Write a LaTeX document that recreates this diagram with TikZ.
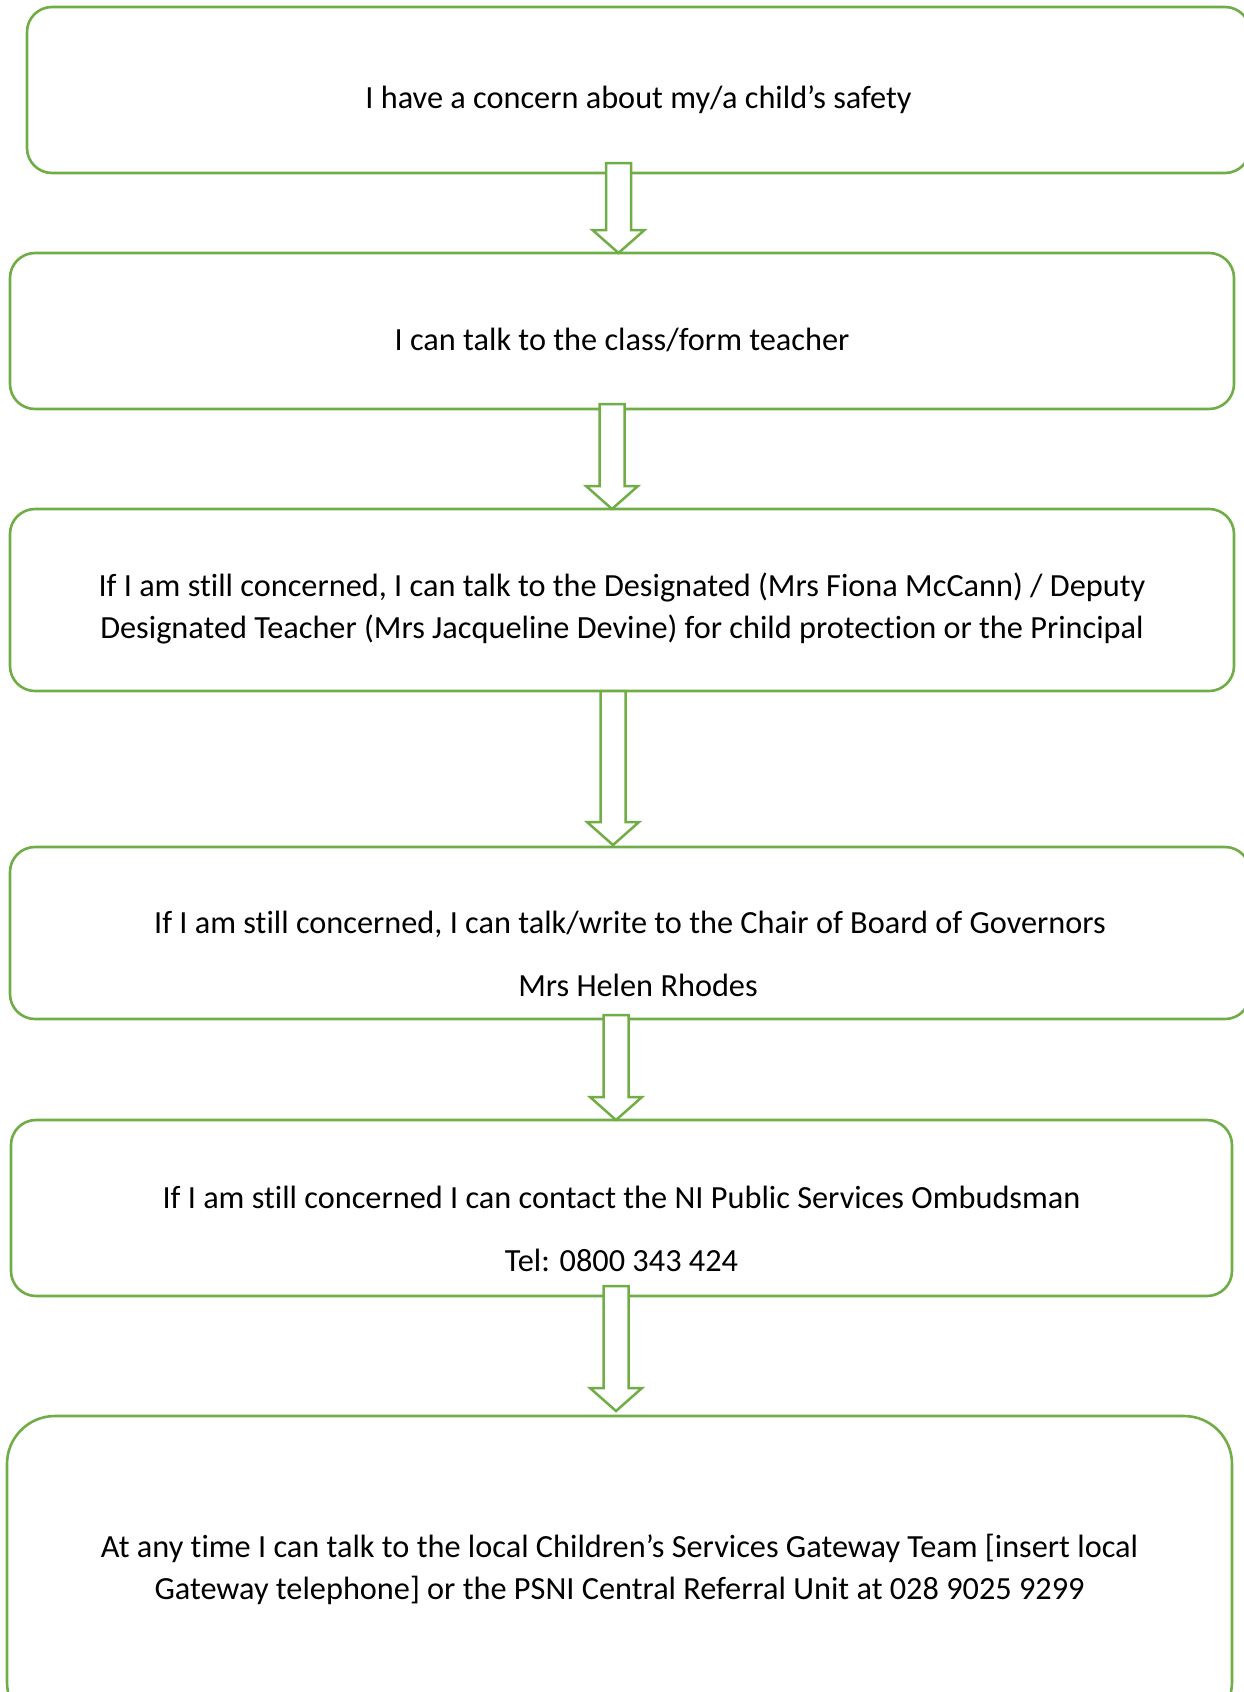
\documentclass[tikz,border=0pt]{standalone}
\usepackage{fontspec}
\setmainfont[Ligatures=NoCommon]{Carlito}
\usetikzlibrary{calc}
\definecolor{BorderGreen}{HTML}{70AD47}
\tikzset{
    box/.style={draw=BorderGreen, line width=2.6pt, rounded corners=25pt,
        align=center, inner sep=0pt, outer sep=0pt},
    arrowline/.style={draw=BorderGreen, line width=2.5pt, fill=white},
}
% Flecha de bloque desde #1 hasta la punta #2
\newcommand{\flowarrow}[2]{%
    \draw[arrowline]
    ($(#1)+(-12.5,0)$) -- ($(#1)+(12.5,0)$)
    -- ($(#2)+(12.5,-23)$) -- ($(#2)+(26,-23)$)
    -- (#2)
    -- ($(#2)+(-26,-23)$) -- ($(#2)+(-12.5,-23)$)
    -- cycle;}

\begin{document}
\begin{tikzpicture}[x=1pt, y=-1pt, font=\fontsize{32.3}{42}\selectfont]

    \useasboundingbox (0,0) rectangle (1244,1692);

    % Cajas
    \node[box, minimum width=1223pt, minimum height=166pt, text height=36pt, text depth=0pt]
        (concern) at (638.5,90) {I have a concern about my/a child’s safety};
    \node[box, minimum width=1224pt, minimum height=156pt, text height=38pt, text depth=0pt]
        (teacher) at (622,331) {I can talk to the class/form teacher};
    \node[box, minimum width=1224pt, minimum height=182pt, text height=76pt, text depth=0pt]
        (designated) at (622,600) {If I am still concerned, I can talk to the Designated (Mrs Fiona McCann) / Deputy\\
        Designated Teacher (Mrs Jacqueline Devine) for child protection or the Principal};
    \node[box, minimum width=1240pt, minimum height=172pt, text height=126pt, text depth=0pt]
        (governors) at (630,933) {If I am still concerned, I can talk/write to the Chair of Board of Governors\\[21pt]
        \hspace*{16pt}Mrs Helen Rhodes};
    \node[box, minimum width=1221pt, minimum height=176pt, text height=126pt, text depth=0pt]
        (ombudsman) at (621.5,1208) {If I am still concerned I can contact the NI Public Services Ombudsman\\[21pt]
        Tel: 0800 343 424};
    \node[box, rounded corners=48pt, minimum width=1225pt, minimum height=314pt, text height=52pt, text depth=0pt]
        (gateway) at (619.5,1573) {At any time I can talk to the local Children’s Services Gateway Team [insert local\\
        Gateway telephone] or the PSNI Central Referral Unit at 028 9025 9299};

    % Puntos de las flechas
    \coordinate (s1) at ($(concern.south)+(-20,-10)$);
    \coordinate (e1) at (s1 |- teacher.north);
    \coordinate (s2) at ($(teacher.south)+(-10,-5)$);
    \coordinate (e2) at (s2 |- designated.north);
    \coordinate (s3) at ($(designated.south)+(-9,0)$);
    \coordinate (e3) at ($(s3 |- governors.north)+(0,-2)$);
    \coordinate (s4) at ($(governors.south)+(-14,-4)$);
    \coordinate (e4) at (s4 |- ombudsman.north);
    \coordinate (s5) at ($(ombudsman.south)+(-5.5,-10)$);
    \coordinate (e5) at ($(s5 |- gateway.north)+(0,-5)$);

    \flowarrow{s1}{e1}
    \flowarrow{s2}{e2}
    \flowarrow{s3}{e3}
    \flowarrow{s4}{e4}
    \flowarrow{s5}{e5}
\end{tikzpicture}
\end{document}
